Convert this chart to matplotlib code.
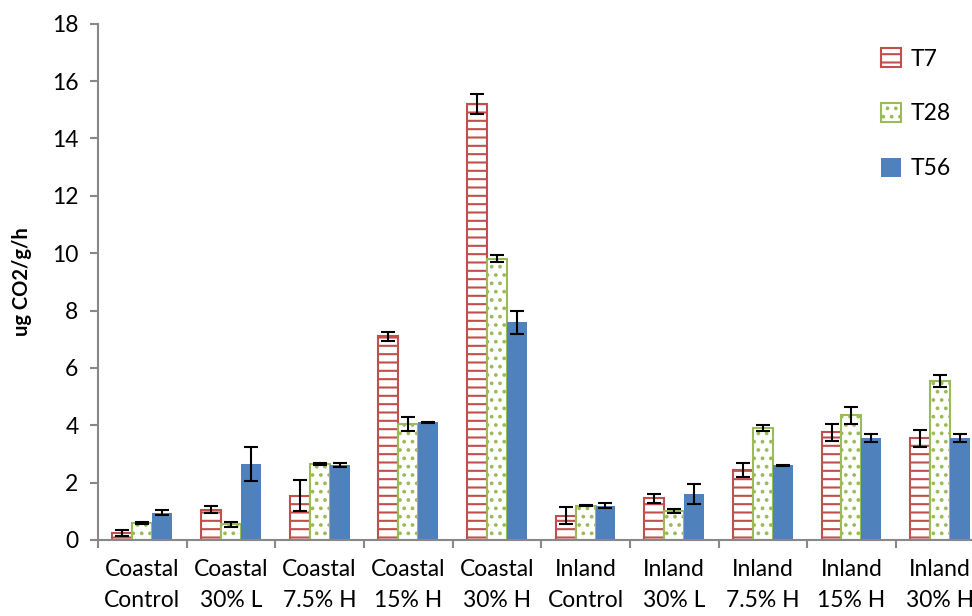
import numpy as np
import matplotlib.pyplot as plt

plt.rcParams['font.family'] = ['Lato', 'DejaVu Sans']
plt.rcParams['hatch.linewidth'] = 1.5

categories = ["Coastal\nControl", "Coastal\n30% L", "Coastal\n7.5% H", "Coastal\n15% H", "Coastal\n30% H",
              "Inland\nControl", "Inland\n30% L", "Inland\n7.5% H", "Inland\n15% H", "Inland\n30% H"]
t7 = [0.25, 1.05, 1.55, 7.1, 15.2, 0.85, 1.45, 2.45, 3.75, 3.55]
t7_err = [0.1, 0.12, 0.55, 0.15, 0.35, 0.3, 0.15, 0.25, 0.3, 0.3]
t28 = [0.6, 0.55, 2.65, 4.05, 9.8, 1.2, 1.0, 3.9, 4.35, 5.55]
t28_err = [0.03, 0.08, 0.05, 0.25, 0.12, 0.03, 0.07, 0.1, 0.3, 0.2]
t56 = [0.95, 2.65, 2.6, 4.1, 7.6, 1.2, 1.6, 2.6, 3.55, 3.55]
t56_err = [0.08, 0.6, 0.07, 0.03, 0.4, 0.08, 0.35, 0.03, 0.15, 0.15]

index = np.arange(len(categories))
bar_width = 0.225

fig = plt.figure(figsize=(9.72, 6.16), dpi=100)
ax = fig.add_axes([0.1008, 0.1234, 0.912, 0.838])

err_kw = dict(ecolor='black', capsize=5, elinewidth=1.5, capthick=1.5)
ax.bar(index - bar_width, t7, bar_width, yerr=t7_err, facecolor='white',
       edgecolor='#C0504D', hatch='--', linewidth=1.5, label='T7', error_kw=err_kw)
ax.bar(index, t28, bar_width, yerr=t28_err, facecolor='white',
       edgecolor='#9BBB59', hatch='..', linewidth=1.5, label='T28', error_kw=err_kw)
ax.bar(index + bar_width, t56, bar_width, yerr=t56_err, color='#4F81BD',
       label='T56', error_kw=err_kw)

ax.set_xlim(-0.5, len(categories) - 0.5)
ax.set_ylim(0, 18)
ax.set_yticks(np.arange(0, 19, 2))
ax.set_xticks(index)
ax.set_xticklabels(categories, fontsize=16.5, linespacing=1.55)
ax.set_xticks(np.arange(-0.5, len(categories), 1), minor=True)
ax.tick_params(axis='x', which='major', length=0, pad=14)
ax.tick_params(axis='x', which='minor', length=6, color='#888888', width=1.5)
ax.tick_params(axis='y', labelsize=16.5, length=6, color='#888888', width=1.5, pad=8)
ax.set_ylabel('ug CO2/g/h', fontsize=14.5, fontweight='bold', labelpad=14)

for s in ['top', 'right']:
    ax.spines[s].set_visible(False)
for s in ['left', 'bottom']:
    ax.spines[s].set_color('#888888')
    ax.spines[s].set_linewidth(1.5)

ax.legend(loc='upper left', bbox_to_anchor=(0.885, 0.955), bbox_transform=fig.transFigure,
          frameon=False, fontsize=16.5, labelspacing=1.45, handlelength=0.9,
          handleheight=0.9, handletextpad=0.4)

fig.savefig('out.png', dpi=100)
